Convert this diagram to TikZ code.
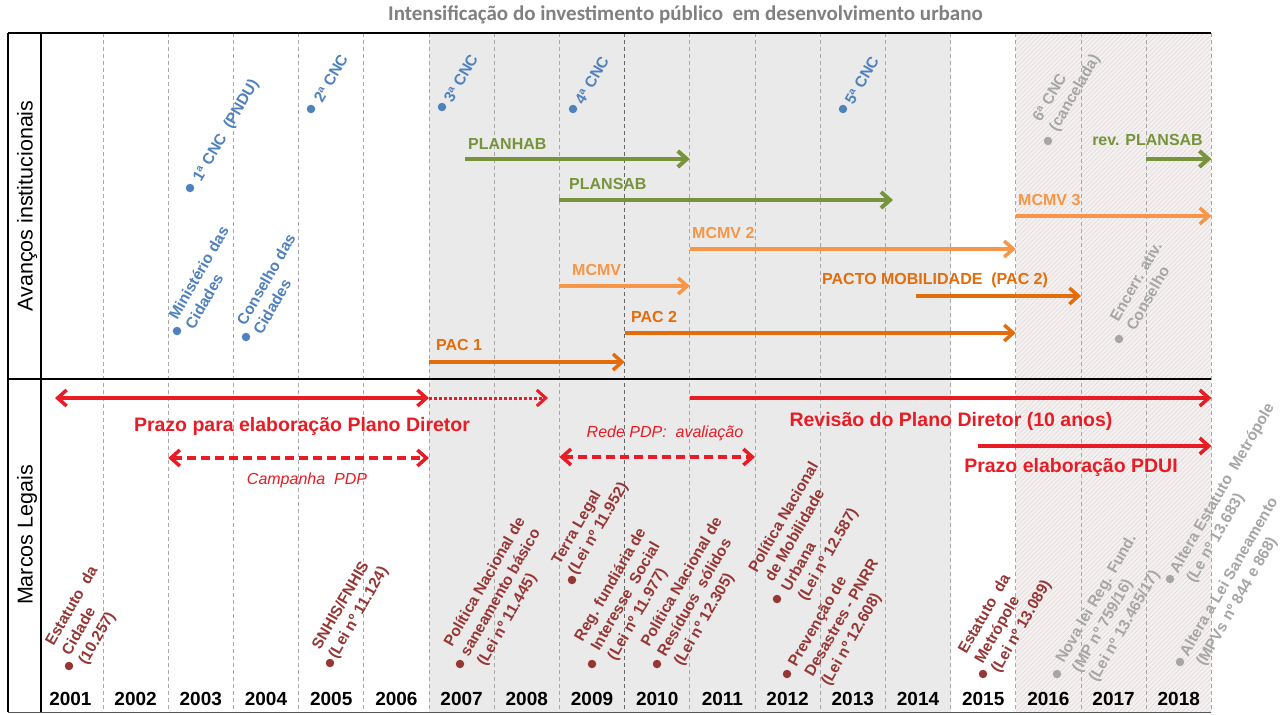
\documentclass[tikz,border=0pt]{standalone}
\usepackage{fontspec}
\setmainfont{Liberation Sans}
\newfontfamily\titlefont{Carlito}
\usetikzlibrary{arrows.meta}

\definecolor{cblue}{HTML}{4F81BD}
\definecolor{cgreen}{HTML}{77933C}
\definecolor{clor}{HTML}{F79646}
\definecolor{cdor}{HTML}{E46C0A}
\definecolor{cred}{HTML}{E81C24}
\definecolor{cdred}{HTML}{953735}
\definecolor{cgrey}{HTML}{A6A6A6}
\definecolor{titlegrey}{HTML}{808080}
\definecolor{shadec}{HTML}{EAEAEA}
\definecolor{hatchbg}{HTML}{F5F1F1}
\definecolor{hatchln}{HTML}{E0D7D7}
\definecolor{gridc}{HTML}{A8A8A8}

\tikzset{
  dot/.style={circle, inner sep=0pt, minimum size=8.5pt, draw=none},
  rlabel/.style={anchor=west, inner sep=0pt, align=left, font=\bfseries\fontsize{15.5}{19}\selectfont},
  barlbl/.style={anchor=west, inner sep=0pt, font=\bfseries\fontsize{16}{19}\selectfont},
  redlbl/.style={inner sep=0pt, text=cred, font=\bfseries\fontsize{19.5}{22}\selectfont},
  reditl/.style={inner sep=0pt, text=cred, font=\itshape\fontsize{16}{19}\selectfont},
  yearlbl/.style={inner sep=0pt, font=\bfseries\fontsize{19}{22}\selectfont},
  sidelbl/.style={rotate=90, inner sep=0pt, font=\fontsize{21.5}{24}\selectfont},
  gridline/.style={draw=gridc, line width=0.8pt, dash pattern=on 4pt off 3pt},
  hatchline/.style={draw=hatchln, line width=0.6pt},
  garrow/.style={draw=cgreen, line width=4pt, ->},
  lorarrow/.style={draw=clor, line width=3.5pt, ->},
  dorarrow/.style={draw=cdor, line width=3.5pt, ->},
  redarrow/.style={draw=cred, line width=3.5pt},
  framel/.style={draw=black, line width=2.2pt},
}

\newcommand\rlab[7]{%
  \node[dot, fill=#6] (#1d) at (#2,#3) {};
  \begin{scope}[shift={(#2,#3)}, rotate=60]
    \node[rlabel, text=#6, transform shape] (#1) at (#4,#5) {#7};
  \end{scope}}

\begin{document}
\begin{tikzpicture}[x=1pt, y=-1pt, >={Straight Barb[length=9pt,width=16pt]}]
\useasboundingbox[fill=white] (0,0) rectangle (1283,715);

% shaded periods
\fill[shadec] (429,33) rectangle (950.6,712);
\fill[hatchbg] (1015.8,33) rectangle (1211.4,712);
\begin{scope}
  \clip (1015.8,33) rectangle (1211.4,712);
  \foreach \i in {0,...,196} {
    \draw[hatchline] ({336+4.5*\i},712) -- ++(679,-679);
  }
\end{scope}

% grid
\foreach \k in {1,...,18} {
  \draw[gridline] ({37.8+65.2*\k},33) -- ({37.8+65.2*\k},712);
}
\draw[gridline, draw=gray!80!black] (624.6,33) -- (624.6,712);

% frame
\draw[framel] (8,33) -- (1211.4,33);
\draw[framel] (8,379) -- (1211.4,379);
\draw[draw=black, line width=1.5pt] (8,33) -- (8,712);
\draw[framel, line width=2.6pt] (41,33) -- (41,712);
\draw[draw=gray!70!black, line width=1pt] (8,712) -- (1211.4,712);

% title and side labels
\node[inner sep=0pt, text=titlegrey, font=\titlefont\bfseries\fontsize{21}{24}\selectfont] (title) at (685.5,15) {Intensificação do investimento público\ \ em desenvolvimento urbano};
\node[sidelbl] (avancos) at (27,206) {Avanços institucionais};
\node[sidelbl] (marcos) at (27,535) {Marcos Legais};

% years
\foreach \yr [count=\i from 0] in {2001,...,2018} {
  \node[yearlbl] (y\yr) at ({37.8+65.2*(\i+0.5)},699) {\yr};
}

% ---- top panel: bars
\coordinate (planhabS) at (465,159);   \coordinate (planhabE) at (689.8,159);
\coordinate (plansabS) at (559.4,200); \coordinate (plansabE) at (893,200);
\coordinate (revS) at (1146.2,159);    \coordinate (revE) at (1211.4,159);
\coordinate (mcmvS) at (559.4,286);    \coordinate (mcmvE) at (689.8,286);
\coordinate (mcmv2S) at (689.8,249);   \coordinate (mcmv2E) at (1015.8,249);
\coordinate (mcmv3S) at (1015.8,216);  \coordinate (mcmv3E) at (1211.4,216);
\coordinate (pac1S) at (429,362);      \coordinate (pac1E) at (624.6,362);
\coordinate (pac2S) at (624.6,333);    \coordinate (pac2E) at (1015.8,333);
\coordinate (pactoS) at (916,296);     \coordinate (pactoE) at (1081,296);

\draw[garrow] (planhabS) -- (planhabE);
\draw[garrow] (plansabS) -- (plansabE);
\draw[garrow] (revS) -- (revE);
\draw[lorarrow] (mcmvS) -- (mcmvE);
\draw[lorarrow] (mcmv2S) -- (mcmv2E);
\draw[lorarrow] (mcmv3S) -- (mcmv3E);
\draw[dorarrow] (pac1S) -- (pac1E);
\draw[dorarrow] (pac2S) -- (pac2E);
\draw[dorarrow] (pactoS) -- (pactoE);

\node[barlbl, text=cgreen] (planhabL) at (468,144) {PLANHAB};
\node[barlbl, text=cgreen] (plansabL) at (569,184) {PLANSAB};
\node[barlbl, text=cgreen, anchor=east] (revL) at (1203,140) {rev. PLANSAB};
\node[barlbl, text=clor] (mcmvL) at (572,270) {MCMV};
\node[barlbl, text=clor] (mcmv2L) at (692,233) {MCMV 2};
\node[barlbl, text=clor] (mcmv3L) at (1018,200) {MCMV 3};
\node[barlbl, text=cdor] (pac1L) at (436,345) {PAC 1};
\node[barlbl, text=cdor] (pac2L) at (631,317) {PAC 2};
\node[barlbl, text=cdor] (pactoL) at (822,280) {PACTO MOBILIDADE\ \ (PAC 2)};

% ---- top panel: events
\rlab{min}{177}{331}{9}{-1}{cblue}{Ministério das\\Cidades}
\rlab{cons}{246}{337}{9}{-2}{cblue}{Conselho das\\Cidades}
\rlab{cncA}{190}{188}{10}{3}{cblue}{1ª CNC\ \ (PNDU)}
\rlab{cncB}{311}{109}{10}{2}{cblue}{2ª CNC}
\rlab{cncC}{442}{107}{8}{2}{cblue}{3ª CNC}
\rlab{cncD}{573}{109}{8}{2}{cblue}{4ª CNC}
\rlab{cncE}{843}{109}{8}{2}{cblue}{5ª CNC}
\rlab{cncF}{1048}{141}{12}{-9.5}{cgrey}{6ª CNC\\(cancelada)}
\rlab{encerr}{1119}{339}{14}{-5}{cgrey}{Encerr. ativ.\\Conselho}

% ---- bottom panel: red periods
\coordinate (prazoS) at (55,398);     \coordinate (prazoE) at (429,398);
\coordinate (prazoX) at (548,398);
\coordinate (campS) at (168.2,458);   \coordinate (campE) at (429,458);
\coordinate (redeS) at (559.4,457);   \coordinate (redeE) at (755,457);
\coordinate (revisS) at (689.8,398);  \coordinate (revisE) at (1211.4,398);
\coordinate (pduiS) at (978,446);     \coordinate (pduiE) at (1211.4,446);

\draw[redarrow, <->] (prazoS) -- (prazoE);
\draw[redarrow, ->, line width=3pt, dash pattern=on 2.5pt off 2.5pt] (prazoE) -- (prazoX);
\draw[redarrow, <->, dash pattern=on 9pt off 5pt] (campS) -- (campE);
\draw[redarrow, <->, dash pattern=on 9pt off 5pt] (redeS) -- (redeE);
\draw[redarrow, ->] (revisS) -- (revisE);
\draw[redarrow, ->] (pduiS) -- (pduiE);

\node[redlbl] (prazoL) at (302,426) {Prazo para elaboração Plano Diretor};
\node[reditl] (campL) at (307,480) {Campanha\ \ PDP};
\node[reditl] (redeL) at (665,433) {Rede PDP:\ \ avaliação};
\node[redlbl] (revisL) at (951,421) {Revisão do Plano Diretor (10 anos)};
\node[redlbl] (pduiL) at (1071,467) {Prazo elaboração PDUI};

% ---- bottom panel: laws
\rlab{estc}{69}{666}{9}{-8}{cdred}{Estatuto\ \ da\\Cidade\\(10.257)}
\rlab{snhis}{330}{663}{6}{-9.5}{cdred}{SNHIS/FNHIS\\(Lei nº 11.124)}
\rlab{pnsb}{460}{664}{10}{0}{cdred}{Política Nacional de\\saneamento básico\\(Lei nº 11.445)}
\rlab{terra}{572}{580}{6}{-12}{cdred}{Terra Legal\\(Lei nº 11.952)}
\rlab{regf}{592}{664}{14}{-4}{cdred}{Reg. fundiária de\\Interesse\ \ Social\\(Lei nº 11.977)}
\rlab{pnrs}{657}{664}{10}{0}{cdred}{Política Nacional de\\Resíduos\ \ sólidos\\(Lei nº 12.305)}
\rlab{pnmu}{777}{599}{12}{-6}{cdred}{Política Nacional\\de Mobilidade\\Urbana\\(Lei nº 12.587)}
\rlab{pnrr}{787}{674}{10}{20}{cdred}{Prevenção de\\Desastres - PNRR\\(Lei nº 12.608)}
\rlab{estm}{983}{674}{8}{-9}{cdred}{Estatuto\ \ da\\Metrópole\\(Lei nº 13.089)}
\rlab{nova}{1057}{674}{12}{16}{cgrey}{Nova lei Reg. Fund.\\(MP nº 759/16)\\(Lei nº 13.465/17)}
\rlab{altm}{1170}{579}{8}{10}{cgrey}{Altera Estatuto\ \ Metrópole\\(Le nº 13.683)}
\rlab{alts}{1180}{662}{8}{10}{cgrey}{Altera a Lei Saneamento\\(MPVs nº 844 e 868)}

\end{tikzpicture}
\end{document}
